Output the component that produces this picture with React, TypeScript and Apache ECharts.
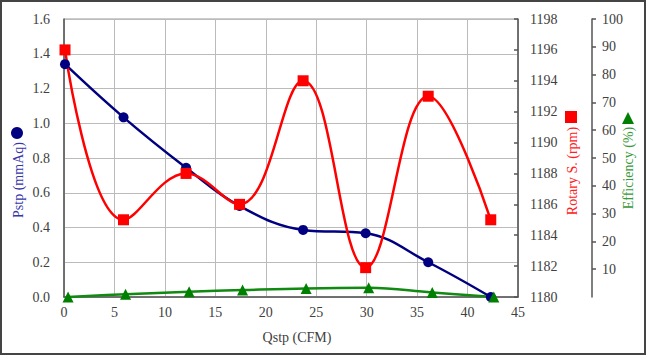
import React, { useEffect, useRef } from "react";
import * as echarts from "echarts";

const qstp = [0.1, 5.9, 12.1, 17.4, 23.7, 29.9, 36.1, 42.3];
const qstpEff = [0.4, 6.1, 12.4, 17.7, 24.0, 30.2, 36.5, 42.6];
const pstp = [1.34, 1.034, 0.744, 0.524, 0.386, 0.367, 0.2, 0.0];
const rotary = [1196.0, 1185.0, 1188.0, 1186.0, 1194.0, 1181.9, 1193.0, 1185.0];
const efficiency = [0, 1.0, 1.9, 2.5, 3.1, 3.3, 1.6, 0];

const FONT = "Liberation Serif";

export default function App() {
  const ref = useRef<HTMLDivElement>(null);
  useEffect(() => {
    document.body.style.margin = "0";
    const chart = echarts.init(ref.current!, null, { renderer: "svg" });
    const rich = { s: { fontFamily: FONT, fontSize: 14, color: "#404040" } };
    const lbl = { fontFamily: FONT, fontSize: 14, color: "#404040", rich };
    chart.setOption({
      animation: false,
      backgroundColor: "#fff",
      textStyle: { fontFamily: FONT },
      grid: { left: 64, top: 19, right: 129, bottom: 59, show: true, borderColor: "#999", borderWidth: 1 },
      xAxis: {
        type: "value",
        min: 0,
        max: 45,
        interval: 5,
        axisLine: { show: true, onZero: false, lineStyle: { color: "#555", width: 1.5 } },
        axisTick: { show: false },
        splitLine: { show: true, lineStyle: { color: "#bbb", width: 1 } },
        axisLabel: { ...lbl, margin: 8, formatter: (v: number) => `{s|${v}}` },
      },
      yAxis: [
        {
          type: "value",
          min: 0,
          max: 1.6,
          interval: 0.2,
          position: "left",
          axisLine: { show: true, lineStyle: { color: "#555", width: 1.5 } },
          axisTick: { show: false },
          splitLine: { show: true, lineStyle: { color: "#bbb", width: 1 } },
          axisLabel: { ...lbl, margin: 14, formatter: (v: number) => `{s|${v.toFixed(1)}}` },
        },
        {
          type: "value",
          min: 1180,
          max: 1198,
          interval: 2,
          position: "right",
          axisLine: { show: true, lineStyle: { color: "#555", width: 1.5 } },
          axisTick: { show: true, inside: true, length: 4, lineStyle: { color: "#555", width: 1.5 } },
          splitLine: { show: false },
          axisLabel: { ...lbl, margin: 12, formatter: (v: number) => `{s|${v}}` },
        },
        {
          type: "value",
          min: 0,
          max: 100,
          interval: 10,
          position: "right",
          offset: 74,
          axisLine: { show: true, lineStyle: { color: "#555", width: 1.5 } },
          axisTick: { show: true, length: 4, lineStyle: { color: "#555", width: 1.5 } },
          splitLine: { show: false },
          axisLabel: { ...lbl, margin: 10, showMinLabel: false, formatter: (v: number) => `{s|${v}}` },
        },
      ],
      series: [
        {
          type: "line",
          yAxisIndex: 0,
          data: qstp.map((x, i) => [x, pstp[i]]),
          smooth: 0.4,
          symbol: "circle",
          symbolSize: 10,
          itemStyle: { color: "#000080" },
          lineStyle: { color: "#000080", width: 2.5 },
        },
        {
          type: "line",
          yAxisIndex: 1,
          data: qstp.map((x, i) => [x, rotary[i]]),
          smooth: 0.4,
          symbol: "rect",
          symbolSize: 11,
          itemStyle: { color: "#ff0000" },
          lineStyle: { color: "#ff0000", width: 2.5 },
        },
        {
          type: "line",
          yAxisIndex: 2,
          data: qstpEff.map((x, i) => [x, efficiency[i]]),
          smooth: 0.4,
          symbol: "triangle",
          symbolSize: 11,
          itemStyle: { color: "#008000" },
          lineStyle: { color: "#108a10", width: 2.5 },
        },
      ],
      graphic: [
        { type: "rect", shape: { x: 1, y: 1, width: 644, height: 353 }, style: { fill: "none", stroke: "#444", lineWidth: 2 }, silent: true },
        {
          type: "text",
          x: 297,
          y: 337,
          style: { text: "Qstp (CFM)", font: `14px ${FONT}`, fill: "#404040", align: "center", verticalAlign: "middle" },
        },
        {
          type: "text",
          x: 18,
          y: 180,
          rotation: Math.PI / 2,
          style: { text: "Pstp (mmAq)", font: `14px ${FONT}`, fill: "#3636a8", align: "center", verticalAlign: "middle" },
        },
        { type: "circle", shape: { cx: 17, cy: 133, r: 6 }, style: { fill: "#000080" } },
        {
          type: "text",
          x: 572,
          y: 171,
          rotation: Math.PI / 2,
          style: { text: "Rotary S. (rpm)", font: `14px ${FONT}`, fill: "#ff2020", align: "center", verticalAlign: "middle" },
        },
        { type: "rect", shape: { x: 565, y: 111, width: 12, height: 12 }, style: { fill: "#ff0000" } },
        {
          type: "text",
          x: 628,
          y: 168,
          rotation: Math.PI / 2,
          style: { text: "Efficiency (%)", font: `14px ${FONT}`, fill: "#3a9a3a", align: "center", verticalAlign: "middle" },
        },
        { type: "polygon", shape: { points: [[622, 124], [634, 124], [628, 112]] }, style: { fill: "#008000" } },
      ],
    });
    return () => chart.dispose();
  }, []);
  return <div ref={ref} style={{ width: 647, height: 356 }} />;
}
